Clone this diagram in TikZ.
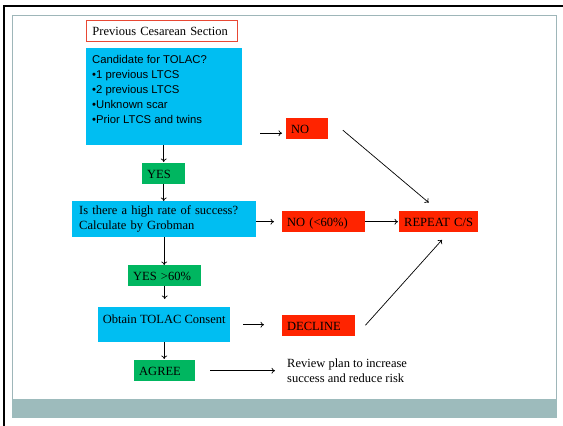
\documentclass[tikz,border=0pt]{standalone}
\usepackage{fontspec}
\setmainfont{Liberation Serif}
\setsansfont{Liberation Sans}
\usetikzlibrary{arrows.meta}
\definecolor{tolacblue}{RGB}{0,190,242}
\definecolor{yesgreen}{RGB}{0,182,96}
\definecolor{nored}{RGB}{255,36,0}
\definecolor{titlered}{RGB}{232,72,52}
\definecolor{framegray}{RGB}{158,182,185}
\definecolor{bandgray}{RGB}{157,187,188}
\tikzset{
  flowbox/.style={rectangle, anchor=north west, inner ysep=0pt, align=left},
  cyanbox/.style={flowbox, fill=tolacblue},
  tagbox/.style={flowbox, inner xsep=5pt, minimum height=21pt, text height=9.5pt, text depth=0pt},
  redbox/.style={tagbox, fill=nored},
  greenbox/.style={tagbox, fill=yesgreen},
  arr/.style={-{To[length=3.5pt,width=6pt]}, line width=0.7pt, black}
}
\begin{document}
\begin{tikzpicture}[x=1pt, y=-1pt]
	\tikzstyle{every node}+=[font=\fontsize{12.5}{15}\selectfont]
	\useasboundingbox (0,0) rectangle (563,426);
	\fill [bandgray] (12,399) rectangle (557,418);
	\draw [framegray, line width=1pt] (12.5,399) -- (12.5,15.5) -- (556,15.5) -- (556,399);
	\draw [black, line width=2pt] (3,6) -- (563,6);
	\draw [black, line width=2pt] (4,5) -- (4,426);
	\node [flowbox, draw=titlered, line width=0.8pt, fill=white, inner xsep=6pt, text width=139pt, minimum height=21pt, text height=9.5pt, text depth=0pt] (prev) at (86,20) {Previous Cesarean Section};
	\node [cyanbox, inner xsep=6pt, inner ysep=7pt] (cand) at (86,48) {\parbox[c][83pt][t]{144pt}{\sffamily\fontsize{11.3}{15}\selectfont Candidate for TOLAC?\\•1 previous LTCS\\•2 previous LTCS\\•Unknown scar\\•Prior LTCS and twins}};
	\node [redbox, text width=32pt] (no1) at (286,118) {NO};
	\node [greenbox, text width=33pt] (yes1) at (142,163) {YES};
	\node [cyanbox, inner xsep=7pt, text width=170pt, minimum height=36pt] (rate) at (72,201) {Is there a high rate of success?\\Calculate by Grobman};
	\node [redbox, text width=73pt] (norate) at (282,211) {NO~(<60\%)};
	\node [redbox, text width=69pt] (repeat) at (399,211) {REPEAT~C/S};
	\node [greenbox, text width=63pt] (yes2) at (128,265) {YES~>60\%};
	\node [cyanbox, align=center, minimum width=132pt, minimum height=35pt, text depth=11pt] (consent) at (98,307) {Obtain TOLAC Consent};
	\node [redbox, text width=63pt] (decline) at (282,315) {DECLINE};
	\node [greenbox, text width=51pt] (agree) at (134,360) {AGREE};
	\node [anchor=north west, align=left, inner sep=0pt] (review) at (287,359) {Review plan to increase\\success and reduce risk};
	\coordinate (noin) at ([yshift=-4.5pt]no1.west);
	\coordinate (repin) at ([xshift=10pt]repeat.south);
	\draw [arr, shorten <=18pt, shorten >=4pt] (cand.east |- noin) -- (noin);
	\draw [arr, shorten >=1pt] (cand.south -| yes1.north) -- (yes1.north);
	\draw [arr] (yes1.south) -- (yes1.south |- rate.north);
	\draw [arr, shorten >=8pt] (rate.east |- norate.west) -- (norate.west);
	\draw [arr, shorten >=1pt] (norate.east) -- (repeat.west);
	\draw [arr, shorten <=19pt, shorten >=13pt] (no1.north east) -- (repeat.north);
	\draw [arr, shorten <=15pt, shorten >=10pt] (decline.south east) -- (repin);
	\draw [arr] (rate.south) -- (rate.south |- yes2.north);
	\draw [arr, shorten >=8pt] (yes2.south) -- (yes2.south |- consent.north);
	\draw [arr, shorten <=13pt, shorten >=18pt] (consent.east) -- (consent.east -| decline.west);
	\draw [arr, shorten >=1pt] (consent.south) -- (consent.south |- agree.north);
	\draw [arr, shorten <=15pt, shorten >=12pt] (agree.east) -- (agree.east -| review.west);
\end{tikzpicture}
\end{document}
